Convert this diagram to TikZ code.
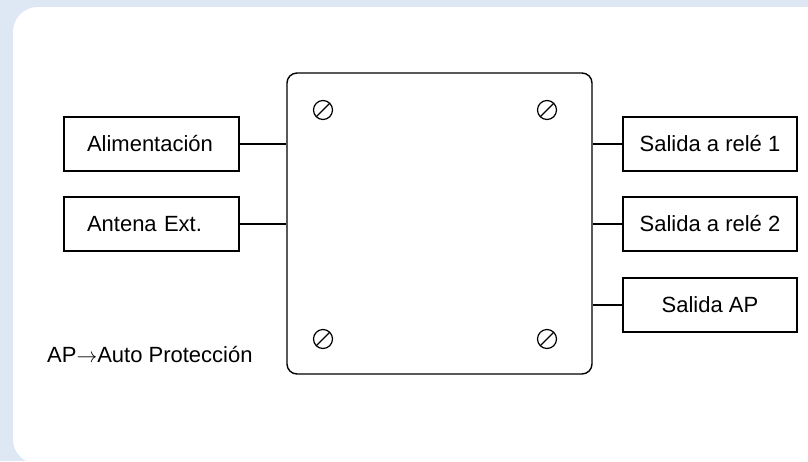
\documentclass[tikz,border=0pt]{standalone}
\usepackage{fontspec}
\setmainfont{Liberation Sans}
\usepackage{tikz}
\usepackage{xcolor}
\definecolor{panelblue}{RGB}{222,232,245}

\begin{document}
\begin{tikzpicture}[x=1pt, y=-1pt,
    inbox/.style={draw, line width=1.4pt, minimum height=54pt, inner ysep=0pt,
        inner xsep=23pt, text width=129pt, align=left, font=\fontsize{22}{26}\selectfont},
    outbox/.style={draw, line width=1.4pt, minimum width=174pt, minimum height=54pt,
        inner sep=0pt, font=\fontsize{22}{26}\selectfont},
    screw/.style={circle, draw, line width=1.2pt, minimum size=19pt, inner sep=0pt,
        path picture={\draw[line width=1.2pt] (path picture bounding box.south west)
            -- (path picture bounding box.north east);}},
    wire/.style={line width=1.4pt}]

\useasboundingbox (0,0) rectangle (808,461);
\clip (0,0) rectangle (808,461);

% background panel
\fill[panelblue] (0,0) rectangle (808,461);
\fill[white, rounded corners=25pt] (13,7) rectangle (840,464);

% central unit
\node[draw, line width=1.4pt, rounded corners=10pt, minimum width=305pt,
    minimum height=301pt] (unit) at (439.5,223.5) {};

\node[screw] (s1) at (323,110) {};
\node[screw] (s2) at (547,110) {};
\node[screw] (s3) at (323,339) {};
\node[screw] (s4) at (547,339) {};

% inputs
\node[inbox] (ali) at (151.5,144) {Alimentación};
\node[inbox] (ant) at (151.5,224) {Antena Ext.};

% outputs
\node[outbox] (rel1) at (710,144) {Salida a relé 1};
\node[outbox] (rel2) at (710,224) {Salida a relé 2};
\node[outbox] (apout) at (710,305) {Salida AP};

\draw[wire] (ali.east) -- (ali.east -| unit.west);
\draw[wire] (ant.east) -- (ant.east -| unit.west);
\draw[wire] (rel1.west) -- (rel1.west -| unit.east);
\draw[wire] (rel2.west) -- (rel2.west -| unit.east);
\draw[wire] (apout.west) -- (apout.west -| unit.east);

\node[anchor=west, inner sep=0pt, font=\fontsize{22}{26}\selectfont] (note) at (47,355)
    {AP$\rightarrow$Auto Protección};

\end{tikzpicture}
\end{document}
